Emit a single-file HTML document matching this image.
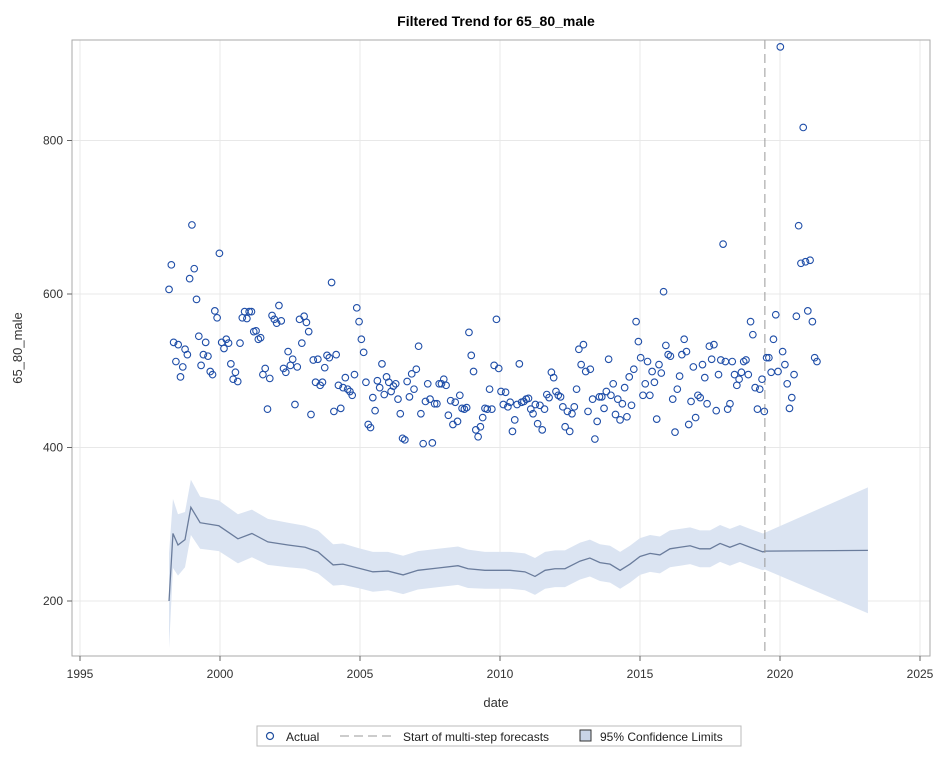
<!DOCTYPE html>
<html><head><meta charset="utf-8">
<style>
body{margin:0;background:#fff;font-family:"Liberation Sans",sans-serif;}
svg text{font-family:"Liberation Sans",sans-serif;}
</style></head>
<body>
<svg id="chart" width="942" height="757" xmlns="http://www.w3.org/2000/svg">
<rect x="0" y="0" width="942" height="757" fill="#fff"/>
<text x="496" y="26" text-anchor="middle" font-size="14" font-weight="bold" fill="#000">Filtered Trend for 65_80_male</text>
<g id="grid"></g>
<g id="band"></g>
<g id="marks"></g>
<rect x="72" y="40" width="858" height="616" fill="none" stroke="#aaa"/>
<g id="axes"></g>
<text x="496" y="707" text-anchor="middle" font-size="13" fill="#333">date</text>
<text transform="translate(22,348) rotate(-90)" text-anchor="middle" font-size="13" fill="#333">65_80_male</text>
<g>
<rect x="257" y="726" width="484" height="20" fill="#fff" stroke="#bbb"/>
<circle cx="270" cy="736" r="3.5" fill="none" stroke="#1f4e9e" stroke-width="1.2"/>
<text x="286" y="741" font-size="12" fill="#222">Actual</text>
<line x1="340" y1="736" x2="396" y2="736" stroke="#999" stroke-dasharray="9,5"/>
<text x="403" y="741" font-size="12" fill="#222">Start of multi-step forecasts</text>
<rect x="580" y="730" width="11" height="11" fill="#c9d4e6" stroke="#333"/>
<text x="600" y="741" font-size="12" fill="#222">95% Confidence Limits</text>
</g>
</svg>
<script>
const actual = [606,638,537,512,534,492,505,528,521,620,690,633,593,545,507,521,537,519,499,495,578,569,653,537,529,541,536,509,489,498,486,536,569,577,568,577,577,551,552,541,543,495,503,450,490,572,567,562,585,565,503,498,525,507,515,456,505,567,536,571,563,551,443,514,485,515,481,485,504,520,517,615,447,521,481,451,478,491,476,473,468,495,582,564,541,524,485,430,426,465,448,487,478,509,469,492,485,473,480,483,463,444,412,410,486,466,496,476,502,532,444,405,460,483,463,406,457,457,483,483,489,481,442,461,430,459,434,468,451,450,452,550,520,499,423,414,427,439,451,450,476,450,507,567,503,473,456,472,453,459,421,436,456,509,459,460,463,464,450,444,456,431,455,423,450,469,465,498,491,473,468,466,453,427,447,421,444,453,476,528,508,534,499,447,502,463,411,434,466,466,451,473,515,468,483,443,463,436,457,478,440,492,455,502,564,538,517,468,483,512,468,499,485,437,508,497,603,533,521,519,463,420,476,493,521,541,525,430,460,505,439,468,465,508,491,457,532,515,534,448,495,514,665,512,450,457,512,495,481,489,498,512,514,495,564,547,478,450,476,489,447,517,517,498,541,573,499,922,525,508,483,451,465,495,571,689,640,817,642,578,644,564,517,512];
const actualStart = 1998.18, actualEnd = 2021.32;
const trendYears = [1998.18,1998.32,1998.5,1998.75,1998.96,1999.29,1999.96,2000.64,2001.14,2001.71,2002.43,2003.04,2003.5,2004.04,2004.39,2004.93,2005.46,2006.0,2006.54,2007.07,2007.79,2008.5,2008.86,2009.46,2009.75,2010.36,2010.89,2011.25,2011.61,2011.96,2012.32,2012.86,2013.21,2013.57,2013.93,2014.29,2014.64,2015.0,2015.36,2015.71,2016.07,2016.43,2016.79,2017.14,2017.5,2017.86,2018.21,2018.57,2018.93,2019.39,2019.46,2023.14];
const trendVals = [200,288,273,280,322,302,298,281,288,277,273,270,264,247,248,243,238,239,234,240,243,246,242,240,240,240,238,232,240,242,242,252,256,250,248,240,248,258,262,260,268,270,272,268,268,275,270,275,270,264,265,266];
const bandHalf = [62,45,40,36,36,34,33,32,31,30,29,28,28,27,27,26,26,25,25,25,25,25,25,24,24,24,24,24,24,24,24,24,24,24,24,24,24,24,24,24,24,24,24,24,24,24,24,24,24,24,24,82];
const xTicks = [1995,2000,2005,2010,2015,2020,2025];
const yTicks = [200,400,600,800];
const forecastStart = 2019.46;

const NS="http://www.w3.org/2000/svg";
const X = yr => 80 + (yr-1995)*28;
const Y = v => 601 - (v-200)*0.7675;
function mk(tag, attrs, parent){const e=document.createElementNS(NS,tag);for(const k in attrs)e.setAttribute(k,attrs[k]);parent.appendChild(e);return e;}
const grid=document.getElementById('grid'), band=document.getElementById('band'), marks=document.getElementById('marks'), axes=document.getElementById('axes');

xTicks.forEach(t=>{
  const g=mk('line',{x1:X(t),x2:X(t),y1:40,y2:656,stroke:'#e8e8e8'},grid);
  
  
  const tk=mk('line',{x1:X(t),x2:X(t),y1:656,y2:661,stroke:'#666'},axes);
  
  
  const tx=mk('text',{x:X(t),y:678,'text-anchor':'middle','font-size':12,fill:'#333'},axes);
  tx.textContent=t;
  
  
});
yTicks.forEach(t=>{
  const g=mk('line',{x1:72,x2:930,y1:Y(t),y2:Y(t),stroke:'#e8e8e8'},grid);
  
  
  const tk=mk('line',{x1:67,x2:72,y1:Y(t),y2:Y(t),stroke:'#666'},axes);
  
  
  const tx=mk('text',{x:63,y:Y(t)+4,'text-anchor':'end','font-size':12,fill:'#333'},axes);
  tx.textContent=t;
  
  
});

let up=[],lo=[],ln=[];
trendYears.forEach((yr,i)=>{
  up.push(X(yr)+','+Y(trendVals[i]+bandHalf[i]));
  lo.push(X(yr)+','+Y(trendVals[i]-bandHalf[i]));
  ln.push(X(yr)+','+Y(trendVals[i]));
});
const poly=mk('polygon',{points:up.concat(lo.reverse()).join(' '),fill:'#dbe4f2'},band);


const tl=mk('polyline',{points:ln.join(' '),fill:'none',stroke:'#6a7c9c','stroke-width':1.3},band);



const fl=mk('line',{x1:X(forecastStart),x2:X(forecastStart),y1:40,y2:656,stroke:'#999','stroke-dasharray':'9,5'},band);



const n=actual.length;
actual.forEach((v,i)=>{
  const yr=actualStart+(actualEnd-actualStart)*i/(n-1);
  const c=mk('circle',{cx:X(yr),cy:Y(v),r:3.3,fill:'none',stroke:'#1f4ea8','stroke-width':1.1},marks);
  
  
});
</script>
</body></html>
